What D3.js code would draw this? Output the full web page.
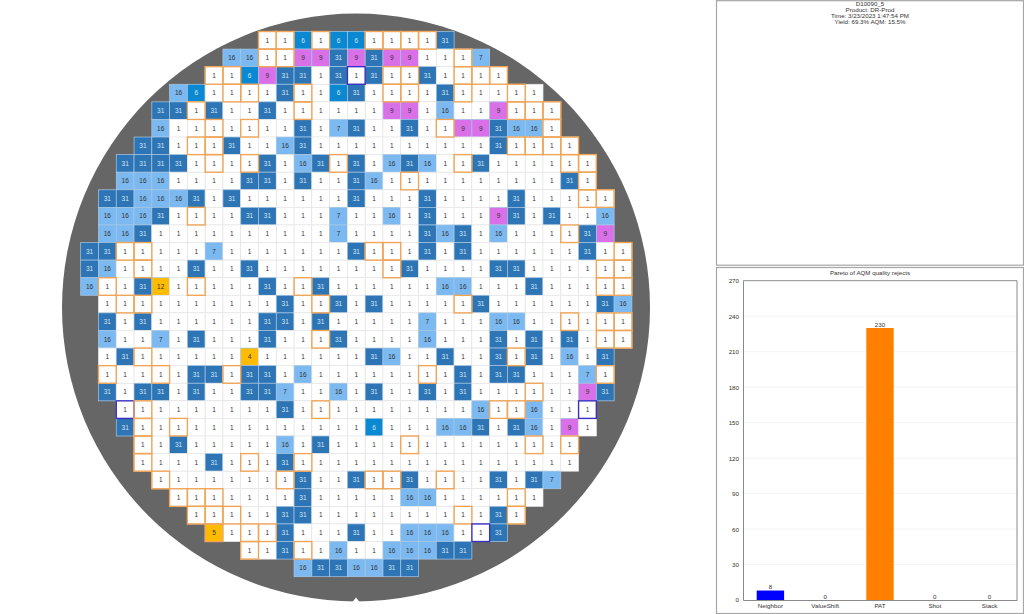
<!DOCTYPE html>
<html>
<head>
<meta charset="utf-8">
<script src="https://cdn.jsdelivr.net/npm/d3@7"></script>
<style>
html, body { margin: 0; padding: 0; background: #fff; }
svg { display: block; }
text { font-family: "Liberation Sans", Arial, sans-serif; }
</style>
</head>
<body>
<div id="chart"></div>
<script>
// die readings per wafer row: value, then o = orange outline, b = blue outline
var firstCols = [10, 8, 7, 5, 4, 4, 3, 2, 2, 1, 1, 1, 0, 0, 0, 1, 1, 1, 1, 1, 1, 2, 2, 3, 3, 4, 5, 6, 7, 9, 12]
var dieRows = [
    "1o 1o 6 1o 6 6 1o 1o 1o 1o 31",
    "16 16 1o 1o 9 9 31 9 31 9 9 1 1 1o 7",
    "1o 1o 6 9 31 31 1 31 1b 31 1o 1o 31 1 1o 1o 1o",
    "16 6 1 1o 1o 1 31 1o 1 6 31 1 1o 1o 1 31 1o 1 1 1o 1",
    "31 31 1o 31 1 1 31 1 1o 1 1 1 1 9 9 1 16 1 1 9 1o 1o 1o",
    "16 1 1 1o 1 1o 1 1 31 1 7 31 1 1 31 1 1o 9 9 31 16 16 1o",
    "31 31 1 1o 1o 31 1 1 16 31 1 1 1 1 1 1 1 1 1 1 31 1o 1o 1o 1o",
    "31 31 31 31 1 1o 1 1o 31 1 16 31 1o 31 1 16 31 16 1 1o 31 1 1 1 1 1o 1o",
    "16 16 16 1 1 1 1 31 31 1 31 1 1 31 16 1 1o 1 1 1 1 1 1 1 1 31 1o",
    "31 31 16 16 16 31 1 31 1 1 1 1 1 1 31 1 1 1 31 1 1 1 1 31 1 1 1 1o 1o",
    "16 16 16 31 1 1o 1 1 31 31 1 1 1 7 1 1 16 1 31 1 1 1 9 31 1 31 1 1 16",
    "16 16 31 1 1 1 1 1 1 1 1 1 1 7 1 1 1 1 31 16 31 1 16 1 1 1 1o 31 9",
    "31 31 1o 1o 1 1 1 7 1 1 1 1 1 1 1 31 1o 1o 1 31 1 31 1 1 1 1 1 1 31 1 1o",
    "31 16 1 1o 1 1 31 1 1 31 1 1 1 1 1 1 1 1o 31 1 1 1 1 31 31 1 1 1 1 1o 1o",
    "16 1o 1 31 12 1 1o 1 1 1 31 1 1o 31 1 1 1 1 1 1 16 16 1 1 1 31 1 1 1 1o 1o",
    "1 1o 1o 1 1 1 1 1 1 1 31 1 1o 31 1 31 1 1 1 1 1o 31 1 1 1 1 1 1 31 16",
    "31 1 31 1 1 1 1 1 1 31 31 1 31 1 1 1 1 1 7 1 1 1 16 16 1 1 1o 1 1o 1o",
    "16 1 1 7 1 31 1 1 1 31 1 1 1o 31 1 1 1 1 16 1 1 1 31 1 31 1 31 1 1o 1o",
    "1 31 1o 1 1 1 1 1 4 1 1 1 1 1 1 31 16 1 1 31 1 1 31 1o 31 1 16 1 31",
    "1o 1 1 1o 1 31 31 1o 31 31 1 16 1 1 1 1 1 1 1o 1 31 1 31 31 1 1 1 7 1o",
    "31 1 31 31 1 31 1 1 31 31 7 1 1 16 1 31 1 1 31 1 31 1 1 1 1o 1 1 9 31",
    "1b 1o 1 1 1 1 1 1 1 31 1 1o 1 1 1 1 1 1 1 1 16 1o 1o 16 1 1 1b",
    "31 1o 1 1o 1 1 1 1 1 1 1 1 1 1 6 1 1 1 16 16 31 1 31 16 1 9 1",
    "1o 1 31 1 1 1 1 1 16 1 31 1 1 1 1 1o 1 1 1 1 1 1 1o 1 1o",
    "1o 1 1 1 31 1 1o 1 31 1o 1 1 1 1 1 1 1 1 1 1 1 1 1 1 1",
    "1o 1 1 1 1 1 1 1o 31 1 1 31 1o 1o 31 1 1o 1 1 31 1 31 7",
    "1o 1o 1o 1 1 1 1 31 1 1 1 1 1 16 16 1 1 1 1 1o 1",
    "1o 1o 1o 1 1 31 31 1 1 1 1 1 1 1 1 1o 1 31 1o",
    "5o 1 1o 1o 31 1 1 1 31 1 1 16 16 16 1 1b 31",
    "1o 1 31 1o 1 16 1 1 16 16 16 31 31",
    "16 31 31 16 16 31 31"
]

var waferTitle = ["D10090_5", "Product: DR-Prod", "Time: 3/23/2023 1:47:54 PM", "Yield: 69.3% AQM: 15.5%"]

var paretoTitle = "Pareto of AQM quality rejects"
var paretoNames = ["Neighbor", "ValueShift", "PAT", "Shot", "Stack"]
var paretoValues = [8, 0, 230, 0, 0]
var paretoColors = ["#0000ff", "#0000ff", "#ff8000", "#ff8000", "#ff8000"]
var paretoTicks = [0, 30, 60, 90, 120, 150, 180, 210, 240, 270]

var binColors = { 1: "#ffffff", 4: "#ffbb00", 5: "#ffbb00", 6: "#0a88d2", 7: "#7bb9f0", 9: "#d970e8", 12: "#ffbb00", 16: "#7bb9f0", 31: "#2e75b6" }
var lightText = { 6: 1, 31: 1 }

var width = 1024
var height = 614

var svg = d3.select("#chart").append("svg")
    .attr("width", width)
    .attr("height", height)

//----------------------------- wafer map

var wafer = svg.append("g")

var indexes = d3.range(31)
var xDie = d3.scaleBand().domain(indexes).range([80.7, 631.9])
var yDie = d3.scaleBand().domain(indexes).range([31.5, 576.7])

var dies = []
dieRows.forEach(function (row, r) {
    row.split(" ").forEach(function (tok, k) {
        dies.push({
            row: r,
            col: firstCols[r] + k,
            value: parseInt(tok),
            mark: tok.replace(/[0-9]/g, "")
        })
    })
})

wafer.append("circle")
    .attr("cx", 356)
    .attr("cy", 307.5)
    .attr("r", 294)
    .attr("fill", "#666666")

// notch at the bottom of the wafer
wafer.append("path")
    .attr("d", "M352.5,602 L356,597.5 L359.5,602 Z")
    .attr("fill", "#ffffff")

wafer.selectAll("rect.die")
    .data(dies)
    .enter()
    .append("rect")
    .attr("class", "die")
    .attr("x", function (d) { return xDie(d.col); })
    .attr("y", function (d) { return yDie(d.row); })
    .attr("width", xDie.bandwidth())
    .attr("height", yDie.bandwidth())
    .attr("fill", function (d) { return binColors[d.value]; })
    .attr("stroke", function (d) { return d.value == 1 ? "#e8e8e8" : "#a9c9e6"; })
    .attr("stroke-width", .7)

wafer.selectAll("rect.mark")
    .data(dies.filter(function (d) { return d.mark != ""; }))
    .enter()
    .append("rect")
    .attr("class", "mark")
    .attr("x", function (d) { return xDie(d.col); })
    .attr("y", function (d) { return yDie(d.row); })
    .attr("width", xDie.bandwidth())
    .attr("height", yDie.bandwidth())
    .attr("fill", "none")
    .attr("stroke", function (d) { return d.mark == "o" ? "#f0a558" : "#3c2fc0"; })
    .attr("stroke-width", 1.4)

wafer.selectAll("text")
    .data(dies)
    .enter()
    .append("text")
    .attr("x", function (d) { return xDie(d.col) + xDie.bandwidth() / 2; })
    .attr("y", function (d) { return yDie(d.row) + yDie.bandwidth() / 2 + 2.3; })
    .attr("text-anchor", "middle")
    .attr("font-size", 6.5)
    .style("fill", function (d) { return lightText[d.value] ? "#d5e5f5" : "#333"; })
    .text(function (d) { return d.value; })

//----------------------------- right panels

var panels = [[716.5, .7, 307, 264.5], [716.5, 267.5, 307, 346]]

svg.selectAll("rect.panel")
    .data(panels)
    .enter()
    .append("rect")
    .attr("class", "panel")
    .attr("x", function (d) { return d[0]; })
    .attr("y", function (d) { return d[1]; })
    .attr("width", function (d) { return d[2]; })
    .attr("height", function (d) { return d[3]; })
    .attr("fill", "#fff")
    .attr("stroke", "#a6a6a6")
    .attr("stroke-width", 1.2)

svg.selectAll("text.info")
    .data(waferTitle)
    .enter()
    .append("text")
    .attr("class", "info")
    .attr("x", 870)
    .attr("y", function (d, i) { return 5.8 + i * 6.2; })
    .attr("text-anchor", "middle")
    .attr("font-size", 6.2)
    .style("fill", "#333")
    .text(function (d) { return d; })

//----------------------------- pareto bars

var xBar = d3.scaleBand().domain(paretoNames).range([743, 1017])
var yBar = d3.scaleLinear().domain([0, 270]).range([600, 280.7])

var pareto = svg.append("g")

pareto.append("text")
    .attr("x", 870)
    .attr("y", 274.5)
    .attr("text-anchor", "middle")
    .attr("font-size", 6.2)
    .style("fill", "#333")
    .text(paretoTitle)

pareto.selectAll("line.grid")
    .data(paretoTicks.slice(1, -1))
    .enter()
    .append("line")
    .attr("class", "grid")
    .attr("x1", 743)
    .attr("x2", 1017)
    .attr("y1", function (d) { return yBar(d); })
    .attr("y2", function (d) { return yBar(d); })
    .attr("stroke", "#f0f0f0")
    .attr("stroke-width", .8)

pareto.selectAll("rect.bar")
    .data(paretoValues)
    .enter()
    .append("rect")
    .attr("class", "bar")
    .attr("x", function (d, i) { return xBar(paretoNames[i]) + xBar.bandwidth() / 4; })
    .attr("y", function (d) { return yBar(d); })
    .attr("width", xBar.bandwidth() / 2)
    .attr("height", function (d) { return yBar(0) - yBar(d); })
    .attr("fill", function (d, i) { return paretoColors[i]; })

pareto.selectAll("text.value")
    .data(paretoValues)
    .enter()
    .append("text")
    .attr("class", "value")
    .attr("x", function (d, i) { return xBar(paretoNames[i]) + xBar.bandwidth() / 2; })
    .attr("y", function (d) { return yBar(d) - 1.5; })
    .attr("text-anchor", "middle")
    .attr("font-size", 6.2)
    .style("fill", "#333")
    .text(function (d) { return d; })

var yAxis = pareto.append("g")
    .attr("transform", "translate(743,0)")
    .call(d3.axisLeft(yBar).tickValues(paretoTicks).tickSize(0).tickPadding(4))

var xAxis = pareto.append("g")
    .attr("transform", "translate(0,600)")
    .call(d3.axisBottom(xBar).tickSize(0).tickPadding(4))

pareto.selectAll(".tick text")
    .attr("font-size", 6.2)
    .attr("font-family", "Liberation Sans")
    .style("fill", "#333")

pareto.selectAll(".domain")
    .attr("stroke", "#8a8a8a")
    .attr("stroke-width", 1)

// top and right edge of the plot
pareto.append("path")
    .attr("d", "M743,280.7 H1017 V600")
    .attr("fill", "none")
    .attr("stroke", "#8a8a8a")
    .attr("stroke-width", 1)
</script>
</body>
</html>
